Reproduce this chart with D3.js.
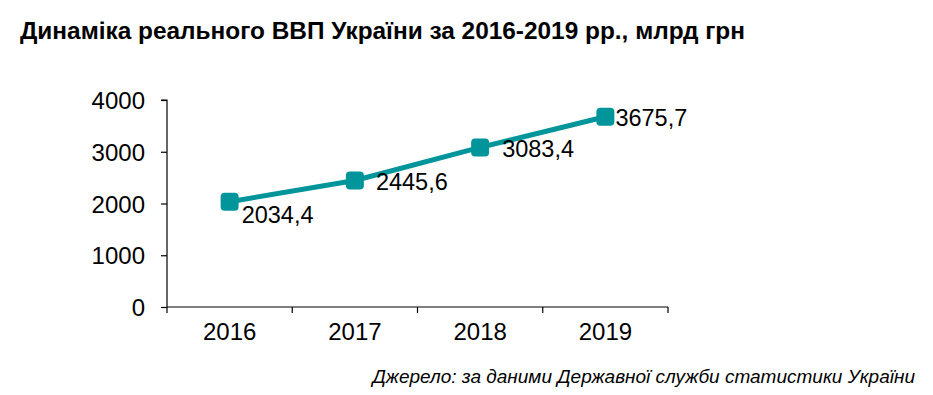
<!DOCTYPE html>
<html><head><meta charset="utf-8">
<script src="https://cdn.jsdelivr.net/npm/d3@7"></script>
<style>body{margin:0;background:#fff}svg{display:block}text{font-family:"Liberation Sans",Arial,sans-serif}</style>
</head><body>
<script>
const years = ["2016","2017","2018","2019"];
const gdp = [2034.4, 2445.6, 3083.4, 3675.7];
const gdpLabels = ["2034,4","2445,6","3083,4","3675,7"];
const yTicks = [0,1000,2000,3000,4000];
const title = "Динаміка реального ВВП України за 2016-2019 рр., млрд грн";
const source = "Джерело: за даними Державної служби статистики України";

const W=933,H=395;
const svg=d3.select("body").append("svg").attr("width",W).attr("height",H);
const x=d3.scaleBand().domain(years).range([167,668]);
const y=d3.scaleLinear().domain([0,4000]).range([307,100]);

svg.append("text").attr("x",20).attr("y",39).attr("font-size",24).attr("font-weight","bold")
  .attr("textLength",725).attr("lengthAdjust","spacingAndGlyphs").text(title);

const ya=svg.append("g").attr("transform","translate(167,0)")
  .call(d3.axisLeft(y).tickValues(yTicks).tickSize(6).tickPadding(16).tickFormat(d3.format("d")));
ya.select(".domain").attr("d","M-6,100H0V307");
const xa=svg.append("g").attr("transform","translate(0,307)")
  .call(d3.axisBottom(x).tickSize(0).tickPadding(16));
xa.select(".domain").attr("d","M167,0H668");
xa.selectAll(".tick line").remove();
[...years.map(d=>x(d)), 668].forEach(v=>{
  xa.append("line").attr("x1",v).attr("x2",v).attr("y1",0).attr("y2",6).attr("stroke","#000");
});
[ya,xa].forEach(g=>{
  g.selectAll("text").attr("font-size",24).attr("fill","#000").attr("font-family","Liberation Sans, Arial, sans-serif");
  g.selectAll("path,line").attr("stroke","#000").attr("stroke-width",1.2);
});
ya.selectAll(".tick text").attr("dy","0.36em");

const cx=d=>x(d)+x.bandwidth()/2;
const color="#00959B";
svg.append("path").datum(years)
  .attr("d",d3.line().x(d=>cx(d)).y((d,i)=>y(gdp[i])))
  .attr("fill","none").attr("stroke",color).attr("stroke-width",5);
svg.selectAll("rect.m").data(years).enter().append("rect")
  .attr("x",d=>cx(d)-9).attr("y",(d,i)=>y(gdp[i])-9).attr("width",18).attr("height",18)
  .attr("rx",4).attr("fill",color);
const off=[[12,21],[21,10],[22,10],[10,9]];
svg.selectAll("text.lbl").data(years).enter().append("text")
  .attr("x",(d,i)=>cx(d)+off[i][0]).attr("y",(d,i)=>y(gdp[i])+off[i][1])
  .attr("font-size",23.5).text((d,i)=>gdpLabels[i]);

svg.append("text").attr("x",915).attr("y",383).attr("text-anchor","end")
  .attr("font-size",19).attr("font-style","italic").text(source);
</script>
</body></html>
